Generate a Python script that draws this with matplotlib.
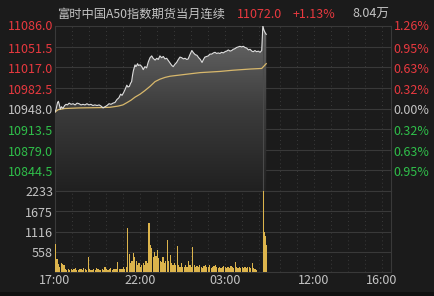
import numpy as np
import matplotlib
matplotlib.use("Agg")
import matplotlib.pyplot as plt
from matplotlib.colors import LinearSegmentedColormap
from matplotlib.patches import Polygon, Rectangle

plt.rcParams['font.family'] = ['Noto Sans CJK SC', 'DejaVu Sans']

# --- data ---
title = "富时中国A50指数期货当月连续"
last_price = "11072.0"
change_pct = "+1.13%"
volume_total = "8.04万"

prev_close = 10948.0
price_ticks = [11086.0, 11051.5, 11017.0, 10982.5, 10948.0, 10913.5, 10879.0, 10844.5]
pct_labels = ["1.26%", "0.95%", "0.63%", "0.32%", "0.00%", "0.32%", "0.63%", "0.95%"]
vol_ticks = [558, 1116, 1675, 2233]
time_labels = ["17:00", "22:00", "03:00", "12:00", "16:00"]
time_pos = [0, 300, 600, 915, 1155]   # minutes since 17:00 on the session axis
session_len = 1190                    # 17:00-05:15 night + 09:00-16:35 day

# price line (session minute, price)
price_t = [0, 4, 9, 12, 16, 19, 23, 28, 34, 39, 44, 50, 57, 64, 71, 78, 85, 92, 99, 106,
           113, 120, 127, 134, 141, 149, 156, 163, 170, 177, 184, 191, 198, 205, 212, 219,
           226, 232, 237, 242, 248, 254, 258, 263, 267, 271, 274, 277, 280, 283, 286, 289,
           292, 295, 301, 307, 312, 318, 324, 330, 336, 342, 347, 354, 360, 365, 371, 377,
           383, 389, 395, 401, 407, 413, 418, 424, 430, 436, 442, 448, 454, 460, 466, 471,
           477, 484, 490, 496, 502, 508, 514, 520, 525, 530, 536, 542, 548, 554, 560, 566,
           572, 577, 583, 589, 595, 601, 607, 613, 619, 625, 630, 636, 642, 648, 654, 660,
           666, 672, 678, 684, 690, 696, 701, 707, 713, 719, 725, 731,
           735, 739, 743, 747]
price_v = [10942, 10947, 10958, 10960, 10953, 10947, 10951, 10948, 10953, 10955, 10954, 10957,
           10955, 10956, 10954, 10957, 10956, 10954, 10955, 10954, 10956, 10954, 10955, 10953,
           10954, 10953, 10954, 10952, 10949, 10951, 10953, 10956, 10955, 10957, 10958, 10963,
           10966, 10972, 10970, 10974, 10980, 10987, 10984, 10985, 10990, 10993, 11003, 11011,
           11016, 11021, 11018, 11020, 11023, 11020, 11021, 11018, 11013, 11018, 11016, 11026,
           11033, 11036, 11032, 11029, 11032, 11030, 11036, 11033, 11035, 11031, 11032, 11028,
           11024, 11020, 11018, 11022, 11025, 11030, 11034, 11033, 11031, 11032, 11030, 11031,
           11038, 11045, 11041, 11038, 11037, 11033, 11030, 11025, 11030, 11034, 11035, 11036,
           11039, 11039, 11041, 11042, 11040, 11041, 11040, 11042, 11041, 11043, 11044, 11046,
           11044, 11045, 11047, 11048, 11050, 11051, 11052, 11051, 11052, 11050, 11049, 11046,
           11047, 11044, 11043, 11045, 11043, 11044, 11042, 11045,
           11086, 11079, 11075, 11072]

# average price line
avg_t = [0, 11, 35, 88, 159, 194, 223, 240, 255, 269, 283, 301, 318, 336, 354, 371, 389,
         407, 442, 477, 513, 548, 583, 629, 690, 731, 735, 747]
avg_v = [10942, 10946, 10948, 10949, 10949.5, 10950, 10952, 10954, 10958, 10962, 10967,
         10972, 10978, 10985, 10993, 10997, 11000, 11002, 11004, 11006, 11008, 11009, 11010,
         11012, 11014, 11015, 11017, 11023]

# volume, night session in 5-minute bars from 17:00
night_vol = [780, 350, 230, 150, 250, 230, 200, 90, 60, 70, 50, 80, 60, 70, 120, 60, 50, 70,
             80, 60, 110, 70, 60, 420, 70, 60, 50, 80, 60, 120, 70, 50, 60, 90, 60, 130, 80,
             60, 70, 100, 60, 80, 70, 90, 280, 80, 90, 70, 130, 90, 150, 1220, 500, 250, 300,
             516, 420, 300, 200, 250, 150, 200, 250, 180, 300, 250, 1340, 750, 656, 400, 563,
             450, 610, 380, 300, 280, 420, 260, 300, 890, 300, 470, 250, 200, 250, 180, 720,
             180, 150, 250, 130, 150, 200, 150, 300, 180, 150, 685, 200, 150, 170, 130, 180,
             150, 120, 160, 200, 130, 150, 180, 120, 140, 160, 200, 130, 110, 150, 120, 140,
             170, 130, 110, 150, 120, 160, 130, 120, 280, 140, 120, 150, 110, 130, 120, 140,
             110, 150, 130, 120, 250, 100, 90, 60]
day_vol_t = [735, 739, 743, 747]
day_vol = [2233, 1100, 985, 750]

# --- colours ---
bg = '#1b1b1b'
grid_c = '#393939'
red = '#e8393f'
green = '#2fbf4a'
gray_txt = '#c4c4c4'
gold = '#dcb44c'

W, H = 435, 296
fig = plt.figure(figsize=(W / 100, H / 100), dpi=100, facecolor=bg)

def px_box(x0, y0, x1, y1):
    return [x0 / W, 1 - y1 / H, (x1 - x0) / W, (y1 - y0) / H]

ax = fig.add_axes(px_box(55, 26, 391.5, 191))
axv = fig.add_axes(px_box(55, 191, 391.5, 272))

ymin = prev_close - 4 * 34.5
ymax = price_ticks[0]

for a in (ax, axv):
    a.set_facecolor(bg)
    a.set_xlim(0, session_len)
    a.set_xticks([])
    a.set_yticks([])
    for s in a.spines.values():
        s.set_color(grid_c)
        s.set_linewidth(0.8)
    # hourly dotted lines
    hours = list(range(60, 735, 60)) + list(range(735 + 60, session_len, 60))
    for h in hours:
        a.axvline(h, color='#3a3a3a', lw=0.7, ls=(0, (1, 3)), zorder=1)
    a.axvline(735, color='#4a4a4a', lw=0.8, zorder=3)

ax.set_ylim(ymin, ymax)
for v in price_ticks[1:]:
    ax.axhline(v, color=grid_c, lw=0.8, zorder=1)

# gradient fill under the price line
pt = np.array(price_t, dtype=float)
pv = np.array(price_v, dtype=float)
cmap = LinearSegmentedColormap.from_list('g', ['#202020', '#3c3c3c', '#6a6a6a'])
grad = np.linspace(0, 1, 256).reshape(-1, 1)
img = ax.imshow(grad, extent=[0, pt[-1], ymin, ymax], origin='lower', aspect='auto',
                cmap=cmap, zorder=2, interpolation='bilinear')
poly = Polygon(np.column_stack([np.r_[pt, pt[-1], pt[0]], np.r_[pv, ymin, ymin]]),
               closed=True, transform=ax.transData, facecolor='none', edgecolor='none')
ax.add_patch(poly)
img.set_clip_path(poly)

ax.plot(avg_t, avg_v, color='#d8b86c', lw=0.9, zorder=4)
ax.plot(pt, pv, color='#dedede', lw=0.8, zorder=5)

# volume
axv.set_ylim(0, vol_ticks[-1])
for v in vol_ticks[:-1]:
    axv.axhline(v, color=grid_c, lw=0.8, zorder=1)
night_t = np.arange(len(night_vol)) * 5
axv.bar(night_t, night_vol, width=4.2, align='edge', color=gold, lw=0, zorder=4)
axv.bar(day_vol_t, day_vol, width=3.4, align='edge', color=gold, lw=0, zorder=4)

# --- texts ---
fs = 9
def ftxt(x, y, s, color, ha='left', size=fs):
    fig.text(x / W, 1 - y / H, s, color=color, ha=ha, va='center', fontsize=size)

ftxt(57, 14, title, gray_txt, size=8.8)
ftxt(237, 14, last_price, red)
ftxt(293, 14, change_pct, red)
ftxt(352, 14, volume_total, gray_txt)

for v, lab in zip(price_ticks, pct_labels):
    c = red if v > prev_close else (gray_txt if v == prev_close else green)
    yp = ax.transData.transform((0, v))[1]
    ypx = H - yp
    if v != price_ticks[0]:
        ypx += 2.5
    else:
        ypx += 1
    ftxt(53.5, ypx, f"{v:.1f}", c, ha='right')
    ftxt(393.5, ypx, lab, c, ha='left')

for v in vol_ticks:
    yp = H - axv.transData.transform((0, v))[1] + 2
    ftxt(53, yp, str(v), gray_txt, ha='right')

for t, lab in zip(time_pos, time_labels):
    xp = ax.transData.transform((t, 0))[0]
    ftxt(xp, 281, lab, gray_txt, ha='center')

# bottom strip
fig.patches.append(Rectangle((0, 0), 1, 4.5 / H, transform=fig.transFigure,
                             facecolor='#101010', edgecolor='none'))

fig.savefig('out.png', dpi=100, facecolor=bg)
